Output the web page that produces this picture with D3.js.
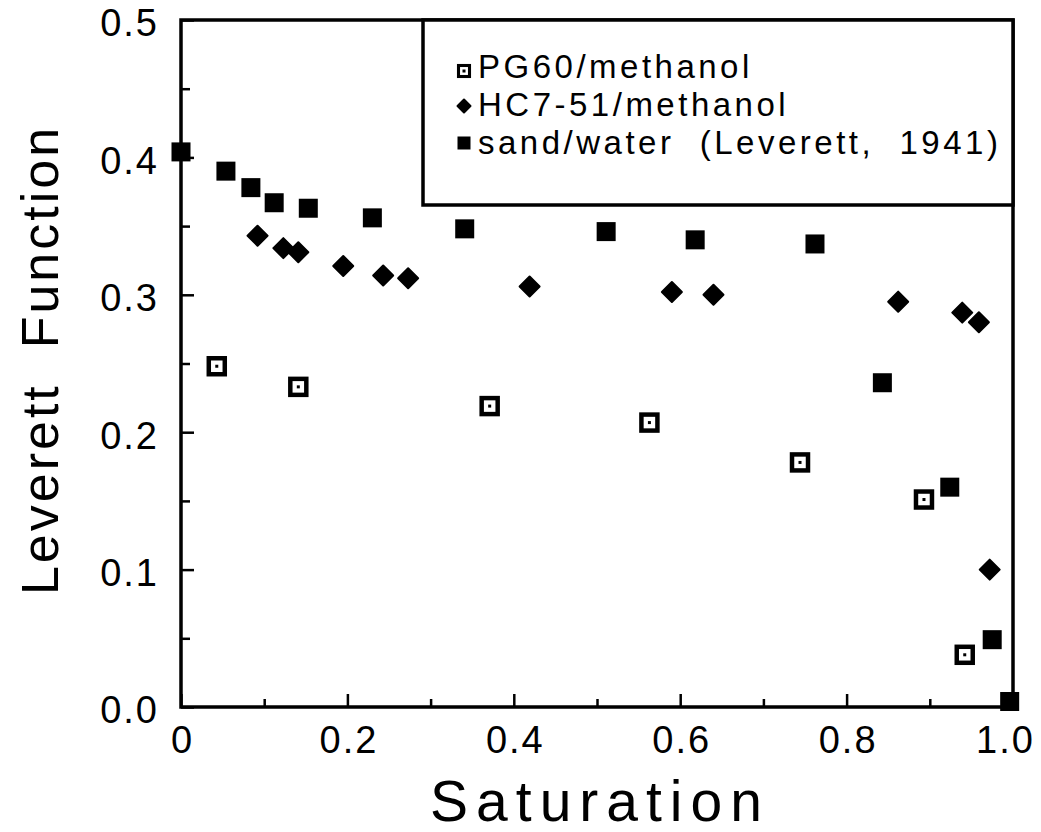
<!DOCTYPE html>
<html>
<head>
<meta charset="utf-8">
<script src="https://cdn.jsdelivr.net/npm/d3@7"></script>
<style>
  html, body { margin: 0; padding: 0; background: #fff; }
  svg { display: block; }
  text { font-family: "Liberation Sans", Arial, Helvetica, sans-serif; fill: #000; white-space: pre; }
</style>
</head>
<body>
<svg id="chart" width="1041" height="832"></svg>
<script>
// ---- data ----
const pg60X = [0.043, 0.141, 0.371, 0.563, 0.744, 0.893, 0.942];
const pg60Y = [0.248, 0.233, 0.219, 0.207, 0.178, 0.151, 0.038];

const hc751X = [0.092, 0.123, 0.141, 0.195, 0.243, 0.273, 0.419, 0.590, 0.640, 0.862, 0.939, 0.959, 0.972];
const hc751Y = [0.343, 0.334, 0.331, 0.321, 0.314, 0.312, 0.306, 0.302, 0.300, 0.295, 0.287, 0.280, 0.100];

const sandX = [0.000, 0.054, 0.084, 0.112, 0.153, 0.230, 0.341, 0.511, 0.618, 0.762, 0.843, 0.924, 0.975, 0.996];
const sandY = [0.404, 0.390, 0.378, 0.367, 0.363, 0.356, 0.348, 0.346, 0.340, 0.337, 0.236, 0.160, 0.049, 0.004];

const xMajorTicks = [0, 0.2, 0.4, 0.6, 0.8, 1.0];
const xTickLabels = ["0", "0.2", "0.4", "0.6", "0.8", "1.0"];
const xMinorTicks = [0.1, 0.3, 0.5, 0.7, 0.9];
const yMajorTicks = [0, 0.1, 0.2, 0.3, 0.4, 0.5];
const yTickLabels = ["0.0", "0.1", "0.2", "0.3", "0.4", "0.5"];
const yMinorTicks = [0.05, 0.15, 0.25, 0.35, 0.45];

const legendLabels = ["PG60/methanol", "HC7-51/methanol", "sand/water  (Leverett,  1941)"];
const xTitle = "Saturation";
const yTitle = "Leverett  Function";

// ---- layout ----
const svg = d3.select("#chart");
const L = 181, R = 1013, T = 20, B = 707;
const x = d3.scaleLinear().domain([0, 1]).range([L, R]);
const y = d3.scaleLinear().domain([0, 0.5]).range([B, T]);

// axes (ticks pointing inward)
const gx = svg.append("g").attr("transform", `translate(0,${B})`)
  .call(d3.axisBottom(x).tickValues(xMajorTicks)
    .tickFormat((d, i) => xTickLabels[i]).tickSize(-13).tickPadding(19));
const gxm = svg.append("g").attr("transform", `translate(0,${B})`)
  .call(d3.axisBottom(x).tickValues(xMinorTicks).tickFormat("").tickSize(-8));
const gy = svg.append("g").attr("transform", `translate(${L},0)`)
  .call(d3.axisLeft(y).tickValues(yMajorTicks)
    .tickFormat((d, i) => yTickLabels[i]).tickSize(-13).tickPadding(22));
const gym = svg.append("g").attr("transform", `translate(${L},0)`)
  .call(d3.axisLeft(y).tickValues(yMinorTicks).tickFormat("").tickSize(-9));

[gx, gxm, gy, gym].forEach(g => {
  g.select(".domain").remove();
  g.selectAll("line").attr("stroke", "#000").attr("stroke-width", 2.5);
});
gx.selectAll("text").attr("font-size", 38).attr("letter-spacing", 2).attr("dy", "0.72em")
  .attr("dx", d => d === 1 ? -8 : 1);
gy.selectAll("text").attr("font-size", 38).attr("letter-spacing", 2).attr("dy", "0.42em");

// frame
svg.append("rect").attr("x", L).attr("y", T).attr("width", R - L).attr("height", B - T)
  .attr("fill", "none").attr("stroke", "#000").attr("stroke-width", 3.5);

// legend box
const lgX = 423, lgY = T, lgW = R - 423, lgH = 185;
svg.append("rect").attr("x", lgX).attr("y", lgY).attr("width", lgW).attr("height", lgH)
  .attr("fill", "#fff").attr("stroke", "#000").attr("stroke-width", 3.5);

// markers
function openSquare(g, cx, cy, s) {
  g.append("rect").attr("x", cx - s / 2).attr("y", cy - s / 2).attr("width", s).attr("height", s)
    .attr("fill", "#fff").attr("stroke", "#000").attr("stroke-width", s * 0.28);
  g.append("rect").attr("x", cx - 1.5).attr("y", cy - 1.5).attr("width", 3).attr("height", 3).attr("fill", "#000");
}
function diamond(g, cx, cy, s) {
  g.append("path").attr("d", `M${cx},${cy - s / 2}L${cx + s / 2},${cy}L${cx},${cy + s / 2}L${cx - s / 2},${cy}Z`)
    .attr("fill", "#000").attr("stroke", "#000").attr("stroke-width", 2).attr("stroke-linejoin", "round");
}
function filledSquare(g, cx, cy, s) {
  g.append("rect").attr("x", cx - s / 2).attr("y", cy - s / 2).attr("width", s).attr("height", s)
    .attr("fill", "#000");
}

const marks = svg.append("g");
pg60X.forEach((v, i) => openSquare(marks, x(v), y(pg60Y[i]), 16));
hc751X.forEach((v, i) => diamond(marks, x(v), y(hc751Y[i]), 20));
sandX.forEach((v, i) => filledSquare(marks, x(v), y(sandY[i]), 19));

// legend entries
const rowY = [66, 104, 142];
const lg = svg.append("g");
openSquare(lg, 464, rowY[0] + 5, 11);
diamond(lg, 464, rowY[1] + 2, 13);
filledSquare(lg, 464, rowY[2] + 1, 13);
legendLabels.forEach((t, i) => {
  lg.append("text").attr("x", 478).attr("y", rowY[i]).attr("dy", "0.36em")
    .attr("font-size", 33).attr("letter-spacing", 3.5).attr("xml:space", "preserve").text(t);
});

// titles
svg.append("text").attr("x", 600).attr("y", 821).attr("text-anchor", "middle")
  .attr("font-size", 57).attr("letter-spacing", 8).text(xTitle);
svg.append("text").attr("transform", `translate(58,${360}) rotate(-90)`).attr("text-anchor", "middle")
  .attr("font-size", 52).attr("letter-spacing", 3).attr("xml:space", "preserve").text(yTitle);
</script>
</body>
</html>
